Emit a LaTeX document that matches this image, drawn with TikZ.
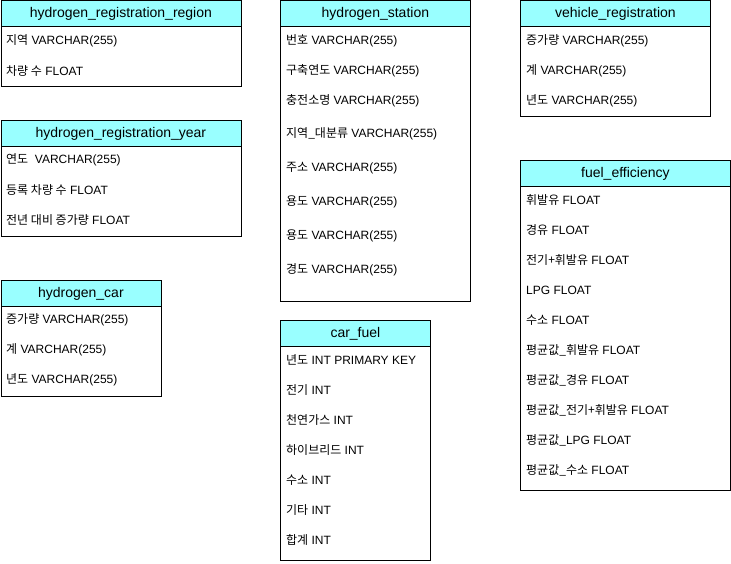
\documentclass[tikz,border=0pt]{standalone}
\usepackage{fontspec}
\setmainfont{Liberation Sans}
\newfontfamily\kr{Noto Sans CJK KR}
\definecolor{hdrfill}{HTML}{99FFFF}
\tikzset{
  tbl/.style={draw=black, line width=0.8pt, fill=white, anchor=north west, inner sep=0pt},
  hdr/.style={draw=black, line width=0.8pt, fill=hdrfill, anchor=north west, inner sep=0pt, minimum height=26pt, font=\fontsize{14}{16}\selectfont},
  row/.style={anchor=west, inner sep=0pt, yshift=-1pt, font=\fontsize{12}{14}\selectfont},
}
\begin{document}
\begin{tikzpicture}[x=1pt,y=-1pt]
\useasboundingbox (0,0) rectangle (731,564);
% hydrogen_registration_region
\node[tbl, minimum width=240pt, minimum height=86pt] (t1) at (0.5,0.5) {};
\node[hdr, minimum width=240pt] (t1h) at (0.5,0.5) {hydrogen\_registration\_region};
\node[row] (t1a) at (6,40) {{\kr 지역} VARCHAR(255)};
\node[row] (t1b) at (6,70) {{\kr 차량 수} FLOAT};
% hydrogen_registration_year
\node[tbl, minimum width=240pt, minimum height=116pt] (t2) at (0.5,120) {};
\node[hdr, minimum width=240pt] (t2h) at (0.5,120) {hydrogen\_registration\_year};
\node[row] (t2a) at (6,159) {{\kr 연도}\ \ VARCHAR(255)};
\node[row] (t2b) at (6,189) {{\kr 등록 차량 수} FLOAT};
\node[row] (t2c) at (6,219) {{\kr 전년 대비 증가량} FLOAT};
% hydrogen_car
\node[tbl, minimum width=160pt, minimum height=116pt] (t3) at (0.5,280) {};
\node[hdr, minimum width=160pt] (t3h) at (0.5,280) {hydrogen\_car};
\node[row] (t3a) at (6,319) {{\kr 증가량} VARCHAR(255)};
\node[row] (t3b) at (6,349) {{\kr 계} VARCHAR(255)};
\node[row] (t3c) at (6,379) {{\kr 년도} VARCHAR(255)};
% hydrogen_station
\node[tbl, minimum width=190pt, minimum height=300pt] (t4) at (280,0.5) {};
\node[hdr, minimum width=190pt] (t4h) at (280,0.5) {hydrogen\_station};
\node[row] (t4a) at (286,40) {{\kr 번호} VARCHAR(255)};
\node[row] (t4b) at (286,70) {{\kr 구축연도} VARCHAR(255)};
\node[row] (t4c) at (286,100) {{\kr 충전소명} VARCHAR(255)};
\node[row] (t4d) at (286,133) {{\kr 지역\_대분류} VARCHAR(255)};
\node[row] (t4e) at (286,167) {{\kr 주소} VARCHAR(255)};
\node[row] (t4f) at (286,201) {{\kr 용도} VARCHAR(255)};
\node[row] (t4g) at (286,235) {{\kr 용도} VARCHAR(255)};
\node[row] (t4h) at (286,269) {{\kr 경도} VARCHAR(255)};
% car_fuel
\node[tbl, minimum width=150pt, minimum height=240pt] (t5) at (280,320) {};
\node[hdr, minimum width=150pt] (t5h) at (280,320) {car\_fuel};
\node[row] (t5a) at (286,359) {{\kr 년도} INT PRIMARY KEY};
\node[row] (t5b) at (286,389) {{\kr 전기} INT};
\node[row] (t5c) at (286,419) {{\kr 천연가스} INT};
\node[row] (t5d) at (286,449) {{\kr 하이브리드} INT};
\node[row] (t5e) at (286,479) {{\kr 수소} INT};
\node[row] (t5f) at (286,509) {{\kr 기타} INT};
\node[row] (t5g) at (286,539) {{\kr 합계} INT};
% vehicle_registration
\node[tbl, minimum width=190pt, minimum height=116pt] (t6) at (520,0.5) {};
\node[hdr, minimum width=190pt] (t6h) at (520,0.5) {vehicle\_registration};
\node[row] (t6a) at (526,40) {{\kr 증가량} VARCHAR(255)};
\node[row] (t6b) at (526,70) {{\kr 계} VARCHAR(255)};
\node[row] (t6c) at (526,100) {{\kr 년도} VARCHAR(255)};
% fuel_efficiency
\node[tbl, minimum width=210pt, minimum height=330pt] (t7) at (520,160) {};
\node[hdr, minimum width=210pt] (t7h) at (520,160) {fuel\_efficiency};
\node[row] (t7a) at (526,199) {{\kr 휘발유} FLOAT};
\node[row] (t7b) at (526,229) {{\kr 경유} FLOAT};
\node[row] (t7c) at (526,259) {{\kr 전기+휘발유} FLOAT};
\node[row] (t7d) at (526,289) {LPG FLOAT};
\node[row] (t7e) at (526,319) {{\kr 수소} FLOAT};
\node[row] (t7f) at (526,349) {{\kr 평균값\_휘발유} FLOAT};
\node[row] (t7g) at (526,379) {{\kr 평균값\_경유} FLOAT};
\node[row] (t7h) at (526,409) {{\kr 평균값\_전기+휘발유} FLOAT};
\node[row] (t7i) at (526,439) {{\kr 평균값\_}LPG FLOAT};
\node[row] (t7j) at (526,469) {{\kr 평균값\_수소} FLOAT};
\end{tikzpicture}
\end{document}
